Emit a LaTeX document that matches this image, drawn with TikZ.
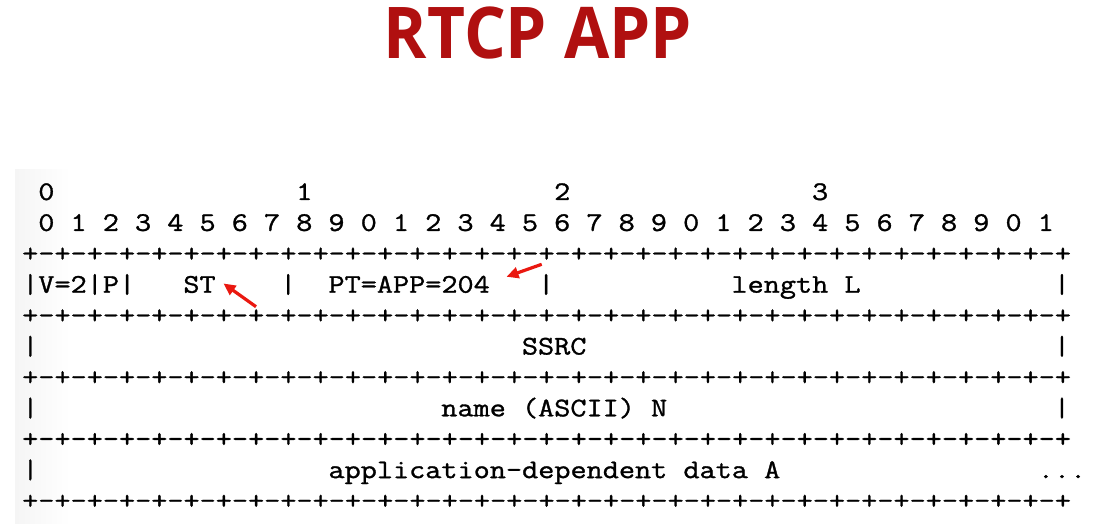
\documentclass[tikz,border=0pt]{standalone}
\usepackage{fontspec}
\newfontfamily\asciifont[FakeStretch=1.166,FakeBold=1.2]{Latin Modern Mono}
\newfontfamily\titlefont{Open Sans}
\usetikzlibrary{arrows.meta,positioning}
\definecolor{titlered}{RGB}{176,16,16}
\definecolor{arrowred}{RGB}{234,24,16}
\newcommand{\oct}{+-+-+-+-+-+-+-+-}
\newcommand{\sepline}{\oct\oct\oct\oct+}

\begin{document}
\begin{tikzpicture}[x=1pt,y=-1pt,>={Triangle[length=12pt,width=11pt]}]
	\tikzstyle{ascii}=[anchor=base west,inner sep=0pt,text=black,
	                   font=\asciifont\fontsize{26.87}{30}\selectfont]
	\tikzstyle{pointer}=[->,draw=arrowred,fill=arrowred,line width=3.2pt]

	\useasboundingbox[fill=white] (0,0) rectangle (1093,524);
	\shade[left color=black!4,right color=white] (15,170) rectangle (70,524);

	\node[anchor=base,text=titlered,xscale=0.92,
	      font=\titlefont\bfseries\fontsize{71.4}{80}\selectfont] (title) at (538,59) {RTCP APP};

	% one unit = one character, one line
	\begin{scope}[shift={(22pt,-200pt)},x=16.12pt,y=-30.9pt]
		% byte and bit numbers
		\foreach \b in {0,...,3}
			\node[ascii] (byte\b) at ({1+16*\b},0) {\b};
		\foreach \i [evaluate=\i as \d using {int(mod(\i,10))}] in {0,...,31}
			\node[ascii] (bit\i) at ({1+2*\i},1) {\d};

		% separator lines
		\foreach \r in {0,...,4}
			\node[ascii] (sep\r) at (0,{2+2*\r}) {\sepline};

		% first word
		\node[ascii] (vp)   at (0,3)  {|V=2|P|};
		\node[ascii] (st)   at (10,3) {ST};
		\node[ascii] (bara) at (16,3) {|};
		\node[ascii] (pt)   at (19,3) {PT=APP=204};
		\node[ascii] (barb) at (32,3) {|};
		\node[ascii] (len)  at (44,3) {length L};
		\node[ascii] (barc) at (64,3) {|};

		% SSRC
		\node[ascii] (ssrcl) at (0,5)  {|};
		\node[ascii] (ssrc)  at (31,5) {SSRC};
		\node[ascii] (ssrcr) at (64,5) {|};

		% name
		\node[ascii] (namel) at (0,7)  {|};
		\node[ascii] (name)  at (26,7) {name (ASCII) N};
		\node[ascii] (namer) at (64,7) {|};

		% application data
		\node[ascii] (appl) at (0,9)  {|};
		\node[ascii] (app)  at (19,9) {application-dependent data A};
		\node[ascii] (dots) at (63,9) {...};
	\end{scope}

	\coordinate (sttail) at (256,306.7);
	\coordinate (pttail) at (541.7,264.3);
	\draw[pointer] (sttail) -- ([xshift=7.6pt,yshift=1pt]st.east);
	\draw[pointer] (pttail) -- ([xshift=16.5pt,yshift=7.7pt]pt.east);
\end{tikzpicture}
\end{document}
